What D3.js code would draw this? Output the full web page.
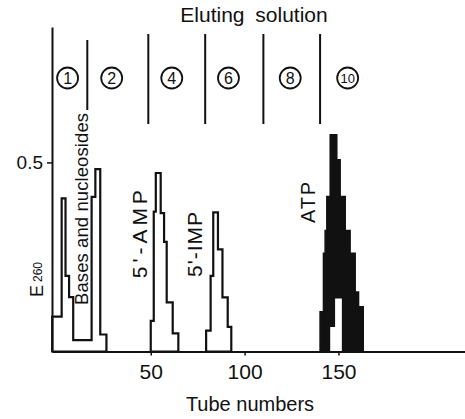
<!DOCTYPE html>
<html>
<head>
<meta charset="utf-8">
<script src="https://cdn.jsdelivr.net/npm/d3@7"></script>
<style>
  body { margin: 0; background: #fff; }
  svg { display: block; }
</style>
</head>
<body>
<script>
// eluent steps (tube number where the eluting solution changes) and their labels
const eluentChanges = [16.2, 48.7, 79, 110, 140.2];
const eluentLabels = ["1", "2", "4", "6", "8", "10"];
const eluentLabelTubes = [5.7, 29.2, 61.2, 91.4, 124.3, 154.9];

// histogram steps: tube where each step starts, E260 of the step (last one closes at 0)
const basesTubes = [-2.5, 2.55, 4.6, 6.5, 8.7, 18.5, 20.5, 23.1, 26.4];
const basesValues = [0.092, 0.405, 0.2, 0.144, 0.03, 0.409, 0.482, 0.045, 0];
const ampTubes = [50.0, 51.6, 52.7, 55.3, 57.1, 58.5, 61.7, 64.7];
const ampValues = [0.081, 0.37, 0.472, 0.366, 0.29, 0.13, 0.048, 0];
const impTubes = [79.5, 81.9, 83.3, 85.8, 88.2, 91.0, 92.9];
const impValues = [0.055, 0.2, 0.368, 0.27, 0.143, 0.065, 0];
const atpTubes = [140.2, 142.0, 142.9, 143.8, 145.6, 149.1, 150.9, 153.6, 156.2, 158.9, 160.7, 163.2];
const atpValues = [0.105, 0.26, 0.32, 0.41, 0.573, 0.507, 0.41, 0.32, 0.26, 0.157, 0.118, 0];
const atpGapTubes = [145.6, 148.2, 151.8];
const atpGapValues = [0.065, 0.14, 0];

const xTicks = [50, 100, 150];
const yTicks = [0.5];

const peakLabels = ["Bases and nucleosides", "5'-AMP", "5'-IMP", "ATP"];
const peakLabelTubes = [16.6, 48.0, 77.3, 137.5];
const peakLabelValues = [0.123, 0.194, 0.197, 0.34];

const w = 465;
const h = 419;
const ink = "#111";
const font = "'Liberation Sans', Arial, sans-serif";

const x = d3.scaleLinear().domain([-2.6, 217.4]).range([52, 465]);
const y = d3.scaleLinear().domain([0, 0.858]).range([351.5, 27]);

const svg = d3.select("body").append("svg")
  .attr("width", w)
  .attr("height", h)
  .style("background", "#fff");

const zip = (ts, vs) => ts.map((t, i) => ({ t: t, v: vs[i] }));

const area = d3.area()
  .curve(d3.curveStepAfter)
  .x(d => x(d.t))
  .y0(y(0))
  .y1(d => y(d.v));

// open peaks
[[basesTubes, basesValues], [ampTubes, ampValues], [impTubes, impValues]].forEach(p => {
  svg.append("path")
    .attr("d", area(zip(p[0], p[1])))
    .attr("fill", "none")
    .attr("stroke", ink)
    .attr("stroke-width", 2.2)
    .attr("stroke-linejoin", "miter");
});

// ATP peak, drawn solid with the light gap near the base
svg.append("path")
  .attr("d", area(zip(atpTubes, atpValues)))
  .attr("fill", ink)
  .attr("stroke", ink)
  .attr("stroke-width", 1.5);

svg.append("path")
  .attr("d", area(zip(atpGapTubes, atpGapValues)))
  .attr("fill", "#fff");

// axes
const xAxis = d3.axisBottom(x).tickValues(xTicks).tickSize(4).tickSizeOuter(0).tickPadding(9);
const yAxis = d3.axisLeft(y).tickValues(yTicks).tickFormat(d3.format(".1f"))
  .tickSize(5).tickSizeOuter(0).tickPadding(4);

const gx = svg.append("g")
  .attr("transform", "translate(0," + y(0) + ")")
  .call(xAxis);
const gy = svg.append("g")
  .attr("transform", "translate(" + x(-2.6) + ",0)")
  .call(yAxis);

[gx, gy].forEach(g => {
  g.select(".domain").attr("stroke", ink).attr("stroke-width", 2);
  g.selectAll(".tick line").attr("stroke", ink).attr("stroke-width", 1.5);
  g.selectAll(".tick text")
    .attr("fill", ink)
    .style("font-family", font);
});
gx.selectAll(".tick text").style("font-size", "21px");
gy.selectAll(".tick text").style("font-size", "19px");

// eluent change lines
svg.selectAll("line.step")
  .data(eluentChanges)
  .enter()
  .append("line")
  .attr("class", "step")
  .attr("x1", d => x(d))
  .attr("x2", d => x(d))
  .attr("y1", (d, i) => i === 0 ? 40 : 34)
  .attr("y2", (d, i) => i === 0 ? 110 : 124)
  .attr("stroke", ink)
  .attr("stroke-width", 2);

// circled eluent numbers
const marks = svg.selectAll("g.eluent")
  .data(eluentLabels)
  .enter()
  .append("g")
  .attr("class", "eluent")
  .attr("transform", (d, i) => "translate(" + x(eluentLabelTubes[i]) + ",78)");

marks.append("circle")
  .attr("r", 10.5)
  .attr("fill", "none")
  .attr("stroke", ink)
  .attr("stroke-width", 1.8);

marks.append("text")
  .attr("text-anchor", "middle")
  .attr("dy", "0.36em")
  .attr("fill", ink)
  .style("font-family", font)
  .style("font-size", d => d.length > 1 ? "13px" : "16px")
  .text(d => d);

// rotated peak labels
const labelLengths = [192, 88, 65, 41];
const labelSizes = [18.5, 21, 21, 20];
svg.selectAll("text.peak")
  .data(peakLabels)
  .enter()
  .append("text")
  .attr("class", "peak")
  .attr("transform", (d, i) => "translate(" + x(peakLabelTubes[i]) + "," + y(peakLabelValues[i]) + ") rotate(-90)")
  .attr("textLength", (d, i) => labelLengths[i])
  .attr("lengthAdjust", "spacing")
  .attr("fill", ink)
  .style("font-family", font)
  .style("font-size", (d, i) => labelSizes[i] + "px")
  .text(d => d);

// titles
svg.append("text")
  .attr("x", 254)
  .attr("y", 22)
  .attr("text-anchor", "middle")
  .attr("fill", ink)
  .style("font-family", font)
  .style("font-size", "21px")
  .style("word-spacing", "5px")
  .text("Eluting solution");

svg.append("text")
  .attr("x", 250)
  .attr("y", 411)
  .attr("text-anchor", "middle")
  .attr("fill", ink)
  .style("font-family", font)
  .style("font-size", "20px")
  .text("Tube numbers");

const ylab = svg.append("text")
  .attr("transform", "translate(43,297) rotate(-90)")
  .attr("fill", ink)
  .style("font-family", font)
  .style("font-size", "18px");
ylab.append("tspan").text("E");
ylab.append("tspan").attr("dx", 3).attr("dy", -1).style("font-size", "12px").text("260");
</script>
</body>
</html>
